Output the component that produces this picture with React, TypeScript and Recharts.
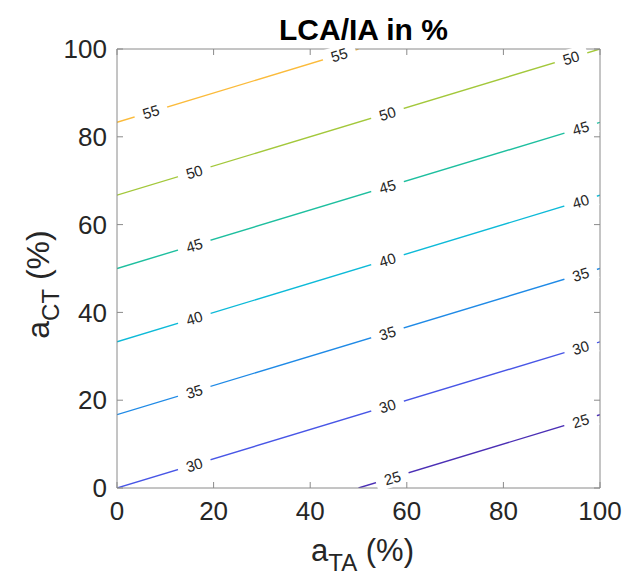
import React from 'react';
import { LineChart, Line, XAxis, YAxis, ReferenceDot, Label } from 'recharts';

// contour levels of LCA/IA (%) and their parula colours
const levels = [25, 30, 35, 40, 45, 50, 55];
const levelColors = ['#4b2fb5', '#4856e6', '#1f8ae6', '#0dbad8', '#1ebf9f', '#a3c83b', '#fbbb3b'];

// contour line endpoints [a_TA, a_CT]
const contourLines: number[][][] = [
  [[50, 0], [100, 16.7]],
  [[0, 0], [100, 33.3]],
  [[0, 16.7], [100, 50]],
  [[0, 33.3], [100, 66.7]],
  [[0, 50], [100, 83.3]],
  [[0, 66.7], [100, 100]],
  [[0, 83.3], [50, 100]],
];

// where the inline level labels sit
const labelSpots: number[][][] = [
  [[57, 2.3], [96, 15.3]],
  [[16, 5.3], [56, 18.7], [96, 32]],
  [[16, 22], [56, 35.3], [96, 48.7]],
  [[16, 38.7], [56, 52], [96, 65.3]],
  [[16, 55.3], [56, 68.7], [96, 82]],
  [[16, 72], [56, 85.3], [94, 98]],
  [[7, 85.7], [46, 98.7]],
];

const ticks = [0, 20, 40, 60, 80, 100];

const W = 635;
const H = 581;
const PLOT = { left: 117, top: 49, right: 600, bottom: 488 };
const PW = PLOT.right - PLOT.left;
const PH = PLOT.bottom - PLOT.top;
// screen angle of a slope of 1/3 in data units
const ANGLE = (Math.atan((PH / PW) / 3) * 180) / Math.PI;

const FONT = '"Liberation Sans", Arial, Helvetica, sans-serif';
const AXIS_GRAY = '#8a8a8a';
const TEXT = '#262626';
const Y_AXIS_W = 80;
const X_AXIS_H = 60;
const TICK_LEN = 6;
const TICK_FONT = 26;

const ContourLabel = ({ cx, cy, text }: { cx: number; cy: number; text: string }) => (
  <g transform={`translate(${cx},${cy}) rotate(${-ANGLE})`}>
    <rect x={-17} y={-9} width={34} height={18} fill="#fff" />
    <text x={0} y={0} textAnchor="middle" dominantBaseline="central" fontSize={15} fill={TEXT} fontFamily={FONT}>
      {text}
    </text>
  </g>
);

// MATLAB-style ticks: marks point into the plot box
const BottomTick = ({ x, y, payload }: any) => (
  <g>
    <line x1={x} x2={x} y1={PLOT.bottom} y2={PLOT.bottom - TICK_LEN} stroke={AXIS_GRAY} />
    <text x={x} y={y} dy="0.71em" textAnchor="middle" fontSize={TICK_FONT} fill={TEXT} fontFamily={FONT}>
      {payload.value}
    </text>
  </g>
);
const LeftTick = ({ x, y, payload }: any) => (
  <g>
    <line x1={PLOT.left} x2={PLOT.left + TICK_LEN} y1={y} y2={y} stroke={AXIS_GRAY} />
    <text x={x} y={y} dy="0.355em" textAnchor="end" fontSize={TICK_FONT} fill={TEXT} fontFamily={FONT}>
      {payload.value}
    </text>
  </g>
);
const TopTick = ({ x }: any) => (
  <line x1={x} x2={x} y1={PLOT.top} y2={PLOT.top + TICK_LEN} stroke={AXIS_GRAY} />
);
const RightTick = ({ y }: any) => (
  <line x1={PLOT.right} x2={PLOT.right - TICK_LEN} y1={y} y2={y} stroke={AXIS_GRAY} />
);

const toPoints = (pts: number[][]) => pts.map(([x, y]) => ({ x, y }));

export default function App() {
  return (
    <div style={{ position: 'absolute', left: 0, top: 0, width: W, height: H, background: '#fff', fontFamily: FONT }}>
      <LineChart
        width={W}
        height={H}
        margin={{
          top: PLOT.top - 1,
          right: W - PLOT.right - 1,
          bottom: H - PLOT.bottom - X_AXIS_H,
          left: PLOT.left - Y_AXIS_W,
        }}
      >
        <XAxis
          xAxisId={0}
          type="number"
          dataKey="x"
          domain={[0, 100]}
          ticks={ticks}
          allowDataOverflow
          height={X_AXIS_H}
          stroke={AXIS_GRAY}
          tickLine={false}
          tickSize={0}
          tickMargin={14}
          tick={BottomTick}
        >
          <Label
            content={({ viewBox }: any) => (
              <text
                x={viewBox.x + viewBox.width / 2 + 4}
                y={561}
                textAnchor="middle"
                fontSize={31}
                fill={TEXT}
                fontFamily={FONT}
              >
                a<tspan fontSize={24} dy={10}>TA</tspan>
                <tspan dy={-10}> (%)</tspan>
              </text>
            )}
          />
        </XAxis>
        <XAxis
          xAxisId="top"
          orientation="top"
          type="number"
          dataKey="x"
          domain={[0, 100]}
          ticks={ticks}
          allowDataOverflow
          height={1}
          stroke={AXIS_GRAY}
          tickLine={false}
          tickSize={0}
          tick={TopTick}
        />
        <YAxis
          yAxisId={0}
          type="number"
          dataKey="y"
          domain={[0, 100]}
          ticks={ticks}
          allowDataOverflow
          width={Y_AXIS_W}
          stroke={AXIS_GRAY}
          tickLine={false}
          tickSize={0}
          tickMargin={10}
          tick={LeftTick}
        >
          <Label
            content={({ viewBox }: any) => {
              const cy = viewBox.y + viewBox.height / 2 + 16;
              return (
                <text
                  x={0}
                  y={0}
                  transform={`translate(49,${cy}) rotate(-90)`}
                  textAnchor="middle"
                  fontSize={32}
                  fill={TEXT}
                  fontFamily={FONT}
                >
                  a<tspan fontSize={24} dy={10}>CT</tspan>
                  <tspan dy={-10}> (%)</tspan>
                </text>
              );
            }}
          />
        </YAxis>
        <YAxis
          yAxisId="right"
          orientation="right"
          type="number"
          dataKey="y"
          domain={[0, 100]}
          ticks={ticks}
          allowDataOverflow
          width={1}
          stroke={AXIS_GRAY}
          tickLine={false}
          tickSize={0}
          tick={RightTick}
        />
        {/* invisible series so the top / right box axes get their ticks */}
        <Line
          xAxisId="top"
          yAxisId="right"
          data={toPoints(contourLines[1])}
          dataKey="y"
          stroke="none"
          dot={false}
          activeDot={false}
          isAnimationActive={false}
        />
        {contourLines.map((pts, i) => (
          <Line
            key={`line-${levels[i]}`}
            xAxisId={0}
            yAxisId={0}
            data={toPoints(pts)}
            dataKey="y"
            stroke={levelColors[i]}
            strokeWidth={1.4}
            dot={false}
            activeDot={false}
            isAnimationActive={false}
          />
        ))}
        {labelSpots.map((spots, i) =>
          spots.map(([x, y], j) => (
            <ReferenceDot
              key={`lbl-${levels[i]}-${j}`}
              xAxisId={0}
              yAxisId={0}
              x={x}
              y={y}
              r={0}
              ifOverflow="visible"
              shape={(p: any) => <ContourLabel cx={p.cx} cy={p.cy} text={String(levels[i])} />}
            />
          ))
        )}
      </LineChart>
      <svg width={W} height={50} style={{ position: 'absolute', left: 0, top: 0, pointerEvents: 'none' }}>
        <text
          x={(PLOT.left + PLOT.right) / 2 + 5}
          y={40}
          textAnchor="middle"
          fontSize={30}
          fontWeight="bold"
          fill="#000"
          fontFamily={FONT}
        >
          LCA/IA in %
        </text>
      </svg>
    </div>
  );
}
